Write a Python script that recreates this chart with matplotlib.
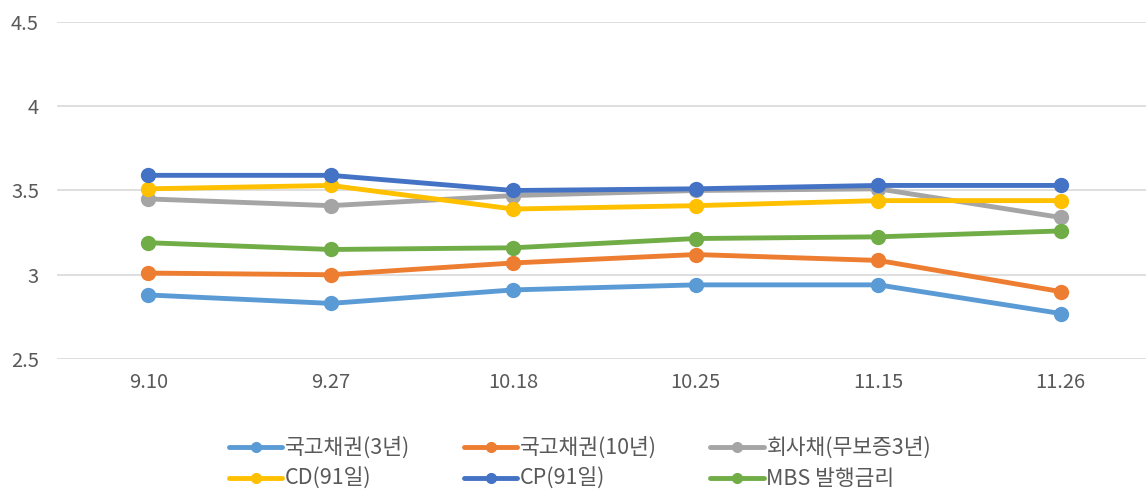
import matplotlib
matplotlib.use("Agg")
import matplotlib.pyplot as plt

plt.rcParams['font.family'] = ['Noto Sans CJK KR', 'DejaVu Sans']

# data
dates = ['9.10', '9.27', '10.18', '10.25', '11.15', '11.26']
gov3 = [2.88, 2.83, 2.91, 2.94, 2.94, 2.77]
gov10 = [3.01, 3.00, 3.07, 3.12, 3.085, 2.90]
corp3 = [3.45, 3.41, 3.47, 3.50, 3.51, 3.34]
cd91 = [3.51, 3.53, 3.39, 3.41, 3.44, 3.44]
cp91 = [3.59, 3.59, 3.50, 3.51, 3.53, 3.53]
mbs = [3.19, 3.15, 3.16, 3.215, 3.225, 3.26]

series = [
    ('국고채권(3년)', gov3, '#5B9BD5'),
    ('국고채권(10년)', gov10, '#ED7D31'),
    ('회사채(무보증3년)', corp3, '#A5A5A5'),
    ('CD(91일)', cd91, '#FFC000'),
    ('CP(91일)', cp91, '#4472C4'),
    ('MBS 발행금리', mbs, '#70AD47'),
]

fig = plt.figure(figsize=(11.46, 4.9), dpi=100)
ax = fig.add_axes([57 / 1146, 1 - 359 / 490, 1095 / 1146, 337 / 490])

x = range(len(dates))
lines = []
for name, vals, col in series:
    ln, = ax.plot(x, vals, color=col, lw=3.5, marker='o', ms=10, label=name,
                  solid_capstyle='round')
    lines.append(ln)

ax.set_xlim(-0.5, len(dates) - 0.5)
ax.set_ylim(2.5, 4.5)
ax.set_yticks([2.5, 3, 3.5, 4, 4.5])
ax.set_yticklabels(['2.5', '3', '3.5', '4', '4.5'])
ax.set_xticks(list(x))
ax.set_xticklabels(dates)
ax.grid(axis='y', color='#D9D9D9', lw=1.2)
ax.set_axisbelow(True)
for s in ax.spines.values():
    s.set_visible(False)
ax.tick_params(length=0, labelsize=14.5, colors='#595959')
ax.tick_params(axis='x', pad=9)
ax.tick_params(axis='y', pad=13)

# legend filled row by row (matplotlib fills by column)
order = [0, 3, 1, 4, 2, 5]
leg = fig.legend([lines[i] for i in order], [series[i][0] for i in order],
                 loc='lower center', bbox_to_anchor=(0.506, -0.04), ncol=3,
                 frameon=False, fontsize=15.5, handlelength=2.5,
                 handletextpad=0.1, columnspacing=2.5, labelspacing=0.42,
                 markerscale=0.7)
for t in leg.get_texts():
    t.set_color('#595959')

fig.savefig('out.png', dpi=100)
